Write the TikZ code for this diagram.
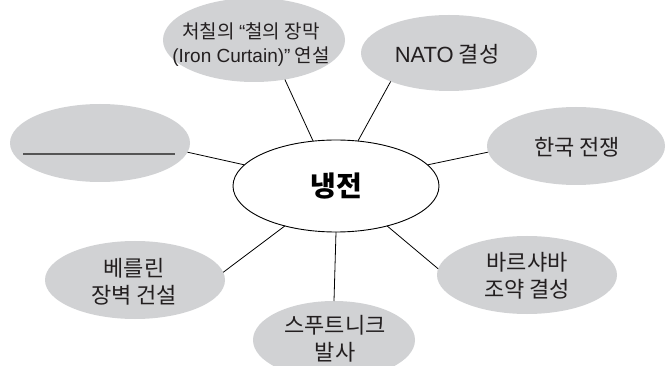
\documentclass[tikz,border=0pt]{standalone}
\usepackage{fontspec}
\setmainfont{Noto Sans CJK KR}
\newfontfamily\lat{Liberation Sans}
\usetikzlibrary{shapes.geometric}
\definecolor{bubgray}{RGB}{209,210,212}
\definecolor{blankline}{RGB}{85,85,85}
\definecolor{ink}{RGB}{35,31,32}

\begin{document}
\begin{tikzpicture}[x=1pt,y=-1pt,
  bub/.style={ellipse,fill=bubgray,inner sep=0pt,outer sep=0pt},
  lbl/.style={align=center,text=ink,font=\fontsize{22}{27}\selectfont},
  link/.style={line width=0.8pt}]
\useasboundingbox (0,0) rectangle (672,366);
\clip (0,0) rectangle (672,366);
% centre
\node[ellipse,draw,line width=0.9pt,fill=white,inner sep=0pt,outer sep=0pt,
  minimum width=206pt,minimum height=92pt,font=\fontsize{28}{32}\selectfont\bfseries]
  (cw) at (336,186) {냉전};
% the six topics and the empty one
\node[bub,minimum width=182pt,minimum height=84pt] (churchill) at (254,40) {};
\node[lbl,font=\fontsize{19}{24}\selectfont] (churchill-t) at (251,45) {처칠의 {\lat“}철의 장막\\{\lat(Iron Curtain)”} 연설};
\node[bub,minimum width=176pt,minimum height=76pt] (nato) at (449,53) {};
\node[lbl] (nato-t) at (447,54) {{\lat NATO} 결성};
\node[bub,minimum width=178pt,minimum height=78pt] (korea) at (576,146) {};
\node[lbl] (korea-t) at (577,147) {한국 전쟁};
\node[bub,minimum width=180pt,minimum height=78pt] (warsaw) at (527,275) {};
\node[lbl] (warsaw-t) at (527,276) {바르샤바\\조약 결성};
\node[bub,minimum width=162pt,minimum height=78pt] (sputnik) at (334,340) {};
\node[lbl] (sputnik-t) at (335,339) {스푸트니크\\발사};
\node[bub,minimum width=180pt,minimum height=78pt] (berlin) at (135,280) {};
\node[lbl] (berlin-t) at (134,282) {베를린\\장벽 건설};
\node[bub,minimum width=180pt,minimum height=78pt] (blank) at (100,143) {};
\draw[blankline,line width=1.6pt] ([shift={(-77,11)}]blank.center) -- ([shift={(75,11)}]blank.center);
% connectors
\draw[link] (churchill.-52) -- (cw.117);
\draw[link] (nato.206) -- (cw.64);
\draw[link] (korea.184) -- (cw.13);
\draw[link] (warsaw.176) -- (cw.322);
\draw[link] (sputnik.90) -- (cw.270);
\draw[link] (berlin.5) -- (cw.218);
\draw[link] (blank.-6) -- (cw.167);
\end{tikzpicture}
\end{document}
